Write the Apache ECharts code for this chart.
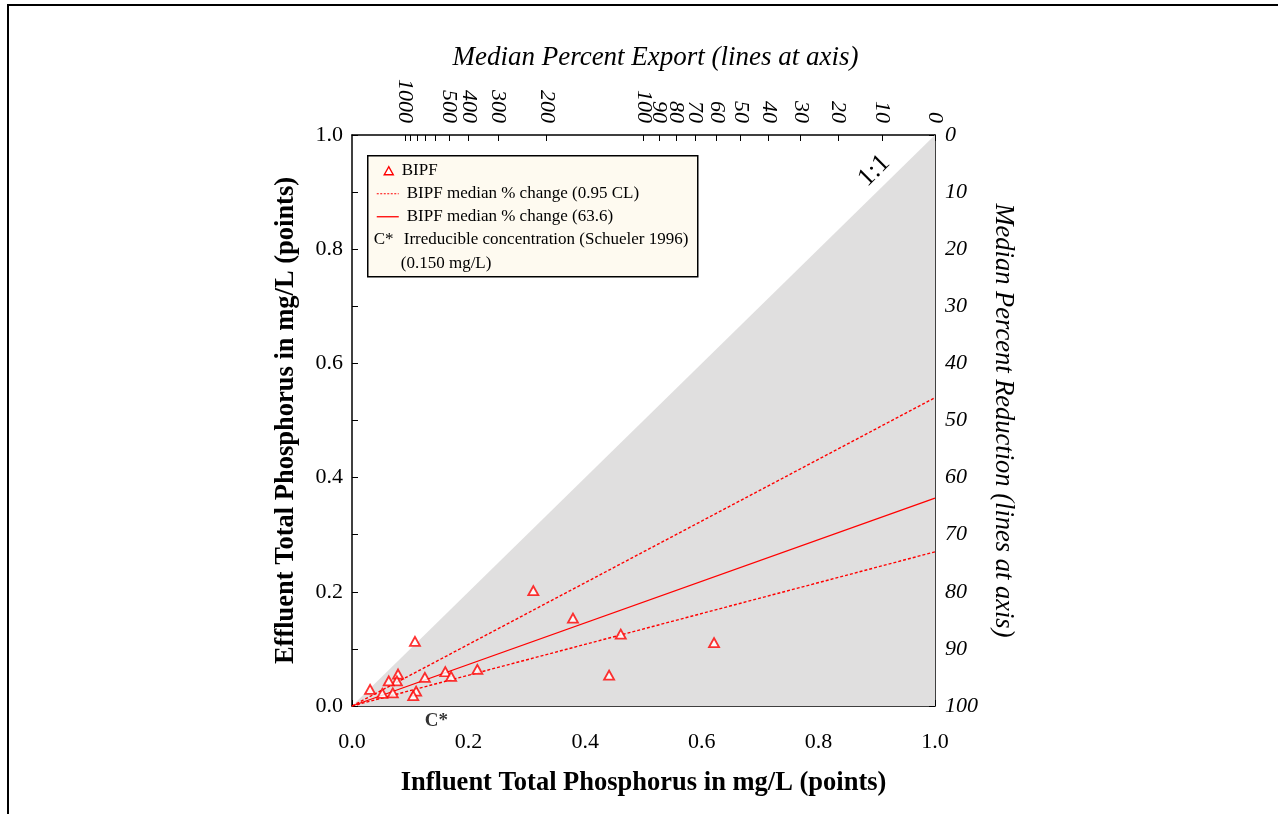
<!DOCTYPE html>
<html>
<head>
<meta charset="utf-8">
<title>BIPF total phosphorus</title>
<script src="https://cdn.jsdelivr.net/npm/echarts@6/dist/echarts.min.js"></script>
<style>
  html, body { margin: 0; padding: 0; background: #fff; }
  #chart { width: 1278px; height: 814px; }
</style>
</head>
<body>
<div id="chart"></div>
<script>
// influent / effluent total phosphorus (mg/L), one pair per event
const influent = [0.311, 0.379, 0.461, 0.621, 0.441, 0.108, 0.215, 0.160, 0.170, 0.125, 0.079, 0.077, 0.063, 0.031, 0.052, 0.070, 0.110, 0.105];
const effluent = [0.202, 0.154, 0.126, 0.111, 0.054, 0.113, 0.064, 0.060, 0.052, 0.050, 0.056, 0.044, 0.044, 0.029, 0.022, 0.023, 0.026, 0.018];

// median percent reduction and its 0.95 confidence limits
const medianReduction = 63.6;
const clReduction = [46.0, 73.0];
// irreducible concentration, Schueler 1996
const irreducibleConc = 0.150;

// top axis (percent export) tick labels, and unlabeled ticks
const exportLabels = [1000, 500, 400, 300, 200, 100, 90, 80, 70, 60, 50, 40, 30, 20, 10, 0];
const exportMinor = [900, 800, 700, 600];

const FONT = 'Liberation Serif';
const RED = '#ff0000';
const GRAY = '#e0dfdf';

// a line through the origin with a given % change hits the top axis (y = 1) at x = 1 / (1 + p/100)
const exportPos = p => 1 / (1 + p / 100);
const reductionLine = r => [[0, 0], [1, 1 - r / 100]];

const chart = echarts.init(document.getElementById('chart'));

const axisLineStyle = { show: true, onZero: false, lineStyle: { color: '#000', width: 1.5 } };
const tickStyle = { show: true, inside: true, length: 6, lineStyle: { color: '#000', width: 1 } };

chart.setOption({
  animation: false,
  backgroundColor: '#fff',
  grid: { left: 352, top: 135, width: 583, height: 571, containLabel: false, outerBoundsMode: 'none' },
  xAxis: [
    {
      type: 'value', position: 'bottom', min: 0, max: 1, interval: 0.2,
      name: 'Influent Total Phosphorus in mg/L (points)',
      nameLocation: 'middle', nameGap: 64,
      nameTextStyle: { fontFamily: FONT, fontSize: 26.5, fontWeight: 'bold', color: '#000' },
      axisLine: axisLineStyle,
      axisTick: tickStyle,
      minorTick: { show: true, splitNumber: 2, length: 5, lineStyle: { color: '#000', width: 1 } },
      axisLabel: { margin: 25, fontFamily: FONT, fontSize: 22, color: '#000', formatter: v => v.toFixed(1) },
      splitLine: { show: false }
    },
    {
      type: 'value', position: 'top', min: 0, max: 1,
      name: 'Median Percent Export (lines at axis)',
      nameLocation: 'middle', nameGap: 64,
      nameTextStyle: { fontFamily: FONT, fontSize: 27, fontStyle: 'italic', color: '#000', padding: [0, 0, 0, 24] },
      axisLine: axisLineStyle,
      axisTick: Object.assign({}, tickStyle, { customValues: exportLabels.concat(exportMinor).map(exportPos) }),
      axisLabel: {
        customValues: exportLabels.map(exportPos),
        rotate: 90, margin: 12, showMinLabel: true, showMaxLabel: true,
        fontFamily: FONT, fontSize: 22, fontStyle: 'italic', color: '#000',
        formatter: v => String(Math.round((1 / v - 1) * 100))
      },
      splitLine: { show: false }
    }
  ],
  yAxis: [
    {
      type: 'value', position: 'left', min: 0, max: 1, interval: 0.2,
      name: 'Effluent Total Phosphorus in mg/L (points)',
      nameLocation: 'middle', nameGap: 52, nameRotate: 90,
      nameTextStyle: { fontFamily: FONT, fontSize: 26.5, fontWeight: 'bold', color: '#000' },
      axisLine: axisLineStyle,
      axisTick: tickStyle,
      minorTick: { show: true, splitNumber: 2, length: 6, lineStyle: { color: '#000', width: 1 } },
      axisLabel: { margin: 9, fontFamily: FONT, fontSize: 22, color: '#000', formatter: v => v.toFixed(1) },
      splitLine: { show: false }
    },
    {
      type: 'value', position: 'right', min: 0, max: 100, interval: 10, inverse: true,
      name: 'Median Percent Reduction (lines at axis)',
      nameLocation: 'middle', nameGap: 54, nameRotate: -90,
      nameTextStyle: { fontFamily: FONT, fontSize: 26.5, fontStyle: 'italic', color: '#000' },
      axisLine: axisLineStyle,
      axisTick: tickStyle,
      minorTick: { show: true, splitNumber: 5, length: 3, lineStyle: { color: '#000', width: 1 } },
      axisLabel: { margin: 10, fontFamily: FONT, fontSize: 22, fontStyle: 'italic', color: '#000' },
      splitLine: { show: false }
    }
  ],
  series: [
    // region below the 1:1 line
    {
      name: '1:1', type: 'line', data: [[0, 0], [1, 1]], symbol: 'none', silent: true, z: 1,
      lineStyle: { width: 0 }, areaStyle: { color: GRAY, opacity: 1 },
      markPoint: {
        symbol: 'circle', symbolSize: 0,
        data: [{ coord: [0.92, 0.92] }],
        label: {
          show: true, formatter: '1:1', rotate: 45, offset: [-3, -17],
          fontFamily: FONT, fontSize: 26, color: '#000'
        }
      }
    },
    {
      name: 'BIPF median % change (0.95 CL)', type: 'line', data: reductionLine(clReduction[0]),
      symbol: 'none', silent: true, z: 2, lineStyle: { color: RED, width: 1.4, type: [3, 2] }
    },
    {
      name: 'BIPF median % change (0.95 CL) ', type: 'line', data: reductionLine(clReduction[1]),
      symbol: 'none', silent: true, z: 2, lineStyle: { color: RED, width: 1.4, type: [3, 2] }
    },
    {
      name: 'BIPF median % change', type: 'line', data: reductionLine(medianReduction),
      symbol: 'none', silent: true, z: 2, lineStyle: { color: RED, width: 1.3 }
    },
    {
      name: 'BIPF', type: 'scatter', z: 3,
      data: influent.map((x, i) => [x, effluent[i]]),
      symbol: 'triangle', symbolSize: [10, 9],
      itemStyle: { color: '#fff', borderColor: RED, borderWidth: 1.8 }
    },
    // C* marker under the x axis
    {
      name: 'C*', type: 'scatter', z: 3, clip: false, silent: true,
      data: [[irreducibleConc, 0]], symbolSize: 0,
      label: {
        show: true, formatter: 'C*', position: 'bottom', distance: 6, offset: [-3, 0],
        fontFamily: FONT, fontSize: 19, fontWeight: 'bold', color: '#000'
      }
    }
  ],
  graphic: [
    // page frame
    { type: 'polyline', shape: { points: [[8, 814], [8, 5], [1278, 5]] }, style: { stroke: '#000', lineWidth: 2, fill: null } },
    // legend box
    {
      type: 'group', left: 367, top: 155, z: 100,
      children: [
        { type: 'rect', shape: { x: 0, y: 0, width: 330, height: 121 }, style: { fill: '#fefaf0', stroke: '#000', lineWidth: 1.5 } },
        { type: 'polygon', shape: { points: [[21, 11], [16.5, 19], [25.5, 19]] }, style: { fill: '#fff', stroke: RED, lineWidth: 1.4 } },
        { type: 'text', x: 34, y: 15, style: { text: 'BIPF', font: '17px "Liberation Serif"', fill: '#000', verticalAlign: 'middle' } },
        { type: 'line', shape: { x1: 9, y1: 38, x2: 31, y2: 38 }, style: { stroke: RED, lineWidth: 1.2, lineDash: [2, 1.5] } },
        { type: 'text', x: 39, y: 38, style: { text: 'BIPF median % change (0.95 CL)', font: '17px "Liberation Serif"', fill: '#000', verticalAlign: 'middle' } },
        { type: 'line', shape: { x1: 9, y1: 61, x2: 31, y2: 61 }, style: { stroke: RED, lineWidth: 1.3 } },
        { type: 'text', x: 39, y: 61, style: { text: 'BIPF median % change (' + medianReduction.toFixed(1) + ')', font: '17px "Liberation Serif"', fill: '#000', verticalAlign: 'middle' } },
        { type: 'text', x: 6, y: 84, style: { text: 'C*', font: '17px "Liberation Serif"', fill: '#000', verticalAlign: 'middle' } },
        { type: 'text', x: 36, y: 84, style: { text: 'Irreducible concentration (Schueler 1996)', font: '17px "Liberation Serif"', fill: '#000', verticalAlign: 'middle' } },
        { type: 'text', x: 33, y: 108, style: { text: '(' + irreducibleConc.toFixed(3) + ' mg/L)', font: '17px "Liberation Serif"', fill: '#000', verticalAlign: 'middle' } }
      ]
    }
  ]
});
</script>
</body>
</html>
